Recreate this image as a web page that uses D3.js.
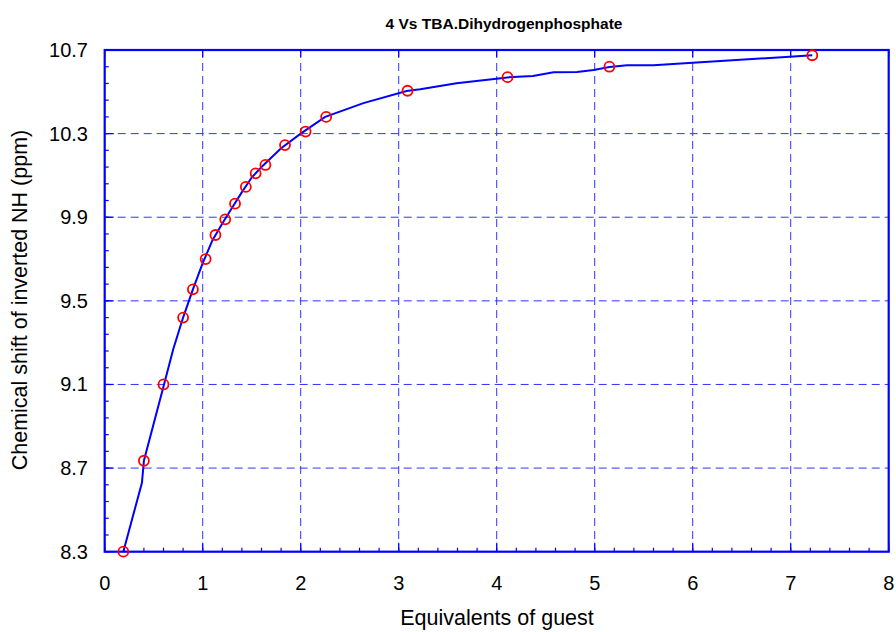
<!DOCTYPE html>
<html>
<head>
<meta charset="utf-8">
<script src="https://cdn.jsdelivr.net/npm/d3@7"></script>
<style>
  body { margin: 0; background: #fff; }
  text { font-family: "Liberation Sans", Arial, sans-serif; }
</style>
</head>
<body>
<svg width="896" height="632"></svg>
<script>
// Measured points (equivalents of guest vs shift).
var obsX = [0.19, 0.40, 0.60, 0.80, 0.90, 1.03, 1.13, 1.23, 1.33, 1.44, 1.54, 1.64, 1.84, 2.05, 2.26, 3.09, 4.11, 5.15, 7.22];
var obsY = [8.30, 8.735, 9.10, 9.42, 9.555, 9.70, 9.815, 9.89, 9.965, 10.045, 10.11, 10.15, 10.245, 10.31, 10.38, 10.505, 10.57, 10.62, 10.675];

// Fitted curve.
var fitX = [0.19, 0.38, 0.40, 0.60, 0.70, 0.80, 0.90, 1.00, 1.10, 1.20, 1.30, 1.40, 1.50, 1.60, 1.80, 2.00, 2.25, 2.64, 3.08, 3.22, 3.59, 4.11, 4.37, 4.58, 4.82, 4.99, 5.15, 5.33, 5.60, 6.00, 6.99, 7.22];
var fitY = [8.30, 8.63, 8.735, 9.09, 9.27, 9.42, 9.555, 9.68, 9.79, 9.87, 9.945, 10.02, 10.09, 10.14, 10.23, 10.30, 10.38, 10.446, 10.504, 10.512, 10.541, 10.569, 10.576, 10.593, 10.595, 10.604, 10.619, 10.627, 10.627, 10.639, 10.668, 10.675];

var xTicks = [0, 1, 2, 3, 4, 5, 6, 7, 8];
var yTicks = [8.3, 8.7, 9.1, 9.5, 9.9, 10.3, 10.7];

var titleText = "4 Vs TBA.Dihydrogenphosphate";
var xTitle = "Equivalents of guest";
var yTitle = "Chemical shift of inverted NH (ppm)";

var svg = d3.select("svg");
// plot box
var pLeft = 104.7, pRight = 888.7, pTop = 50, pBottom = 551.7;

var x = d3.scaleLinear().domain([0, 8]).range([pLeft, pRight]);
var y = d3.scaleLinear().domain([8.3, 10.7]).range([pBottom, pTop]);

var blue = "#0000ff";

// grid
var grid = svg.append("g")
    .attr("stroke", "#3333ff")
    .attr("stroke-width", 1)
    .attr("stroke-dasharray", "8,5");
grid.selectAll(".gx").data(xTicks.slice(1, -1)).enter().append("line")
    .attr("x1", d => x(d)).attr("x2", d => x(d))
    .attr("y1", pTop).attr("y2", pBottom);
grid.selectAll(".gy").data(yTicks.slice(1, -1)).enter().append("line")
    .attr("y1", d => y(d)).attr("y2", d => y(d))
    .attr("x1", pLeft).attr("x2", pRight);

// minor + major ticks, pointing inward
var xMinor = d3.range(0, 8.001, 0.2);
var yMinor = d3.range(8.3, 10.701, 0.08);
var ticks = svg.append("g").attr("stroke", blue).attr("stroke-width", 1.2);
ticks.selectAll(".mx").data(xMinor).enter().append("line")
    .attr("x1", d => x(d)).attr("x2", d => x(d))
    .attr("y1", pBottom).attr("y2", pBottom - 4);
ticks.selectAll(".Mx").data(xTicks).enter().append("line")
    .attr("x1", d => x(d)).attr("x2", d => x(d))
    .attr("y1", pBottom).attr("y2", pBottom - 9);
ticks.selectAll(".Tx").data(xTicks).enter().append("line")
    .attr("x1", d => x(d)).attr("x2", d => x(d))
    .attr("y1", pTop).attr("y2", pTop + 7);
ticks.selectAll(".my").data(yMinor).enter().append("line")
    .attr("y1", d => y(d)).attr("y2", d => y(d))
    .attr("x1", pLeft).attr("x2", pLeft + 4);
ticks.selectAll(".My").data(yTicks).enter().append("line")
    .attr("y1", d => y(d)).attr("y2", d => y(d))
    .attr("x1", pLeft).attr("x2", pLeft + 9);

// frame
svg.append("rect")
    .attr("x", pLeft).attr("y", pTop)
    .attr("width", pRight - pLeft).attr("height", pBottom - pTop)
    .attr("fill", "none").attr("stroke", blue).attr("stroke-width", 2.2);

// tick labels
svg.selectAll(".xl").data(xTicks).enter().append("text")
    .attr("x", d => x(d)).attr("y", 590)
    .attr("text-anchor", "middle").attr("font-size", 20)
    .text(d => d);
svg.selectAll(".yl").data(yTicks).enter().append("text")
    .attr("x", 88).attr("y", d => y(d) + 7)
    .attr("text-anchor", "end").attr("font-size", 20)
    .text(d => d3.format(".1f")(d));

// fit line
var line = d3.line().x(d => x(d[0])).y(d => y(d[1]));
svg.append("path")
    .datum(d3.zip(fitX, fitY))
    .attr("d", line)
    .attr("fill", "none").attr("stroke", blue).attr("stroke-width", 2);

// points
svg.selectAll(".pt").data(d3.zip(obsX, obsY)).enter().append("circle")
    .attr("cx", d => x(d[0])).attr("cy", d => y(d[1]))
    .attr("r", 5).attr("fill", "none")
    .attr("stroke", "#ff0000").attr("stroke-width", 1.8);

// titles
svg.append("text")
    .attr("x", 504).attr("y", 29)
    .attr("text-anchor", "middle").attr("font-size", 15.5).attr("font-weight", "bold")
    .text(titleText);
svg.append("text")
    .attr("x", 497).attr("y", 625)
    .attr("text-anchor", "middle").attr("font-size", 21.5)
    .text(xTitle);
svg.append("text")
    .attr("transform", "translate(27,300) rotate(-90)")
    .attr("text-anchor", "middle").attr("font-size", 21.5)
    .text(yTitle);
</script>
</body>
</html>
